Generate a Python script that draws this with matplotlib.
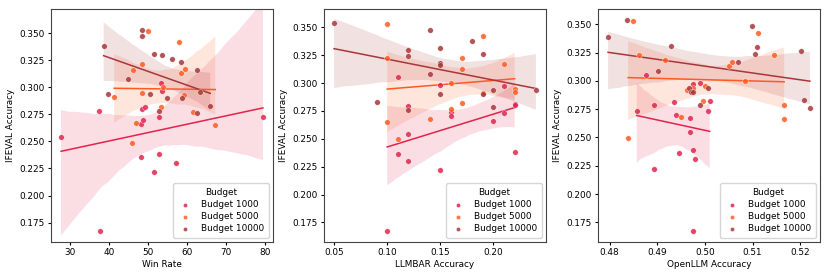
import numpy as np
import matplotlib
matplotlib.use("Agg")
import matplotlib.pyplot as plt
from matplotlib.ticker import MultipleLocator, FormatStrFormatter
import seaborn as sns

budgets = ["Budget 1000", "Budget 5000", "Budget 10000"]
colors = ["#e0244c", "#ff5a1f", "#a8363a"]

# Win Rate panel
win_x_1000 = [27.7, 37.3, 37.7, 48.1, 48.2, 48.5, 48.7, 49.3, 51.6, 52.7, 52.9, 53.2, 53.6, 57.1, 79.4]
win_y_1000 = [0.254, 0.278, 0.167, 0.236, 0.266, 0.280, 0.270, 0.282, 0.222, 0.238, 0.273, 0.304, 0.297, 0.230, 0.273]
win_x_5000 = [49.9, 57.9, 48.3, 46.2, 59.5, 58.5, 48.4, 53.8, 41.3, 59.2, 53.2, 47.0, 45.9, 61.5, 67.2]
win_y_5000 = [0.352, 0.342, 0.322, 0.316, 0.317, 0.313, 0.2945, 0.300, 0.291, 0.2925, 0.2815, 0.267, 0.249, 0.277, 0.265]
win_x_10000 = [38.6, 48.5, 48.4, 51.5, 53.6, 56.0, 58.4, 62.5, 44.9, 39.7, 50.5, 54.9, 58.6, 63.3, 52.8, 62.4, 65.9]
win_y_10000 = [0.338, 0.353, 0.3475, 0.331, 0.330, 0.326, 0.3235, 0.316, 0.308, 0.294, 0.294, 0.290, 0.290, 0.296, 0.278, 0.276, 0.283]

# LLMBAR panel
llm_x_1000 = [0.10, 0.11, 0.11, 0.12, 0.12, 0.12, 0.15, 0.15, 0.16, 0.16, 0.20, 0.21, 0.21, 0.22, 0.22, 0.22]
llm_y_1000 = [0.167, 0.305, 0.236, 0.279, 0.254, 0.230, 0.298, 0.222, 0.274, 0.270, 0.266, 0.297, 0.2735, 0.2815, 0.280, 0.238]
llm_x_5000 = [0.10, 0.10, 0.10, 0.11, 0.14, 0.16, 0.16, 0.17, 0.17, 0.17, 0.19, 0.19, 0.21, 0.22, 0.22]
llm_y_5000 = [0.3527, 0.3228, 0.265, 0.2497, 0.2673, 0.300, 0.277, 0.3228, 0.313, 0.282, 0.342, 0.2915, 0.317, 0.2945, 0.292]
llm_x_10000 = [0.05, 0.09, 0.12, 0.12, 0.12, 0.14, 0.14, 0.15, 0.15, 0.15, 0.15, 0.18, 0.19, 0.19, 0.20, 0.20, 0.24]
llm_y_10000 = [0.354, 0.283, 0.330, 0.324, 0.276, 0.348, 0.3085, 0.331, 0.3177, 0.316, 0.290, 0.338, 0.326, 0.290, 0.294, 0.2786, 0.294]

# OpenLLM panel
open_x_1000 = [0.4857, 0.4876, 0.4894, 0.4894, 0.4936, 0.4939, 0.4946, 0.4968, 0.4969, 0.4975, 0.4975, 0.4975, 0.4979, 0.4990, 0.5006, 0.5010]
open_y_1000 = [0.2738, 0.305, 0.2785, 0.222, 0.2809, 0.270, 0.2365, 0.2668, 0.2544, 0.2968, 0.2388, 0.167, 0.2306, 0.298, 0.2738, 0.2821]
open_x_5000 = [0.4849, 0.4839, 0.4862, 0.4916, 0.4963, 0.4950, 0.4975, 0.4996, 0.5001, 0.5050, 0.5057, 0.5083, 0.5112, 0.5145, 0.5166, 0.5166]
open_y_5000 = [0.353, 0.2497, 0.3229, 0.318, 0.2918, 0.268, 0.2938, 0.2821, 0.2956, 0.3135, 0.317, 0.3003, 0.3421, 0.3226, 0.2785, 0.2665]
open_x_10000 = [0.4797, 0.4836, 0.4901, 0.4928, 0.4966, 0.4970, 0.4976, 0.5006, 0.4989, 0.5070, 0.5099, 0.5105, 0.5109, 0.5201, 0.5208, 0.5220]
open_y_10000 = [0.3385, 0.354, 0.3085, 0.3312, 0.2941, 0.2903, 0.2903, 0.2941, 0.2785, 0.317, 0.3482, 0.3241, 0.330, 0.3265, 0.2835, 0.276]

panels = [
    ("Win Rate", [(win_x_1000, win_y_1000), (win_x_5000, win_y_5000), (win_x_10000, win_y_10000)]),
    ("LLMBAR Accuracy", [(llm_x_1000, llm_y_1000), (llm_x_5000, llm_y_5000), (llm_x_10000, llm_y_10000)]),
    ("OpenLLM Accuracy", [(open_x_1000, open_y_1000), (open_x_5000, open_y_5000), (open_x_10000, open_y_10000)]),
]
ylims = [(0.157, 0.3725), (0.1574, 0.3664), (0.1576, 0.3635)]

fs = 6.4
fig = plt.figure(figsize=(8.3, 2.77), dpi=100)
lefts = [51, 324, 598]

for left, (xlabel, series), ylim in zip(lefts, panels, ylims):
    ax = fig.add_axes([left / 830, 35 / 277, 222 / 830, 233 / 277])
    for (x, y), name, c in zip(series, budgets, colors):
        ax.scatter(x, y, s=16, color=c, alpha=0.85, edgecolors="white", linewidths=0.3, label=name, zorder=3)
    for (x, y), c in zip(series, colors):
        sns.regplot(x=np.array(x), y=np.array(y), ax=ax, scatter=False, color=c, ci=95, seed=0,
                    line_kws={"linewidth": 1.1})
    ax.set_ylim(*ylim)
    ax.yaxis.set_major_locator(MultipleLocator(0.025))
    ax.yaxis.set_major_formatter(FormatStrFormatter("%.3f"))
    ax.set_xlabel(xlabel, fontsize=fs, labelpad=2)
    ax.set_ylabel("IFEVAL Accuracy", fontsize=fs, labelpad=3)
    ax.tick_params(labelsize=fs, length=2.5, pad=2)
    for s in ax.spines.values():
        s.set_color("#444444")
    ax.legend(title="Budget", loc="lower right", fontsize=fs, title_fontsize=fs, markerscale=0.75,
              handlelength=1.6, handletextpad=1.0, borderpad=0.5, labelspacing=0.35)

fig.savefig("out.png", dpi=100)
